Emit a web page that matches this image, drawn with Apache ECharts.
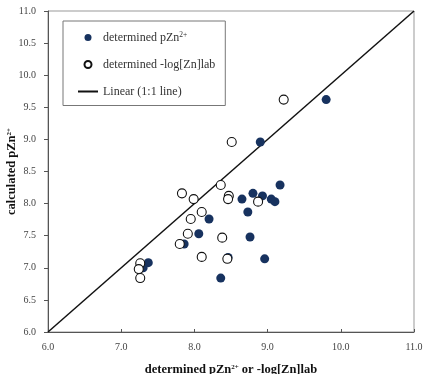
<!DOCTYPE html>
<html><head><meta charset="utf-8">
<script src="https://cdn.jsdelivr.net/npm/echarts@6/dist/echarts.min.js"></script>
<style>html,body{margin:0;padding:0;background:#fff}#c{width:425px;height:374px}</style>
</head><body><div id="c"></div>
<script>
// determined pZn2+ (filled) : [x, y]
const filledX = [9.80, 8.90, 9.17, 8.80, 8.93, 8.65, 9.05, 9.10, 8.73, 8.76, 8.96, 8.36, 8.46, 8.20, 8.06, 7.86, 7.37, 7.30];
const filledY = [9.62, 8.96, 8.29, 8.16, 8.12, 8.07, 8.07, 8.03, 7.87, 7.48, 7.14, 6.84, 7.16, 7.76, 7.53, 7.37, 7.08, 7.00];
// determined -log[Zn]lab (open)
const openX = [9.22, 8.51, 7.83, 7.99, 8.36, 8.47, 8.46, 8.10, 7.95, 7.91, 8.38, 7.80, 8.10, 8.45, 7.26, 7.24, 7.26, 8.87];
const openY = [9.62, 8.96, 8.16, 8.07, 8.29, 8.12, 8.07, 7.87, 7.76, 7.53, 7.47, 7.37, 7.17, 7.14, 7.07, 6.98, 6.84, 8.03];
// 1:1 line
const lineX = [6, 11];
const lineY = [6, 11];

const serif = '"Liberation Serif", "Times New Roman", serif';
const zip = (a, b) => a.map((v, i) => [v, b[i]]);
const sup = { fontFamily: serif, fontSize: 7, verticalAlign: 'bottom', padding: [0, 0, 5, 0] };

const chart = echarts.init(document.getElementById('c'));
chart.setOption({
  animation: false,
  grid: { left: 48, right: 11, top: 11, bottom: 42, show: true, borderColor: '#999', borderWidth: 1, containLabel: false, outerBoundsMode: 'none' },
  xAxis: {
    type: 'value', min: 6, max: 11, interval: 1,
    axisLine: { show: true, lineStyle: { color: '#555' } },
    axisTick: { show: true, inside: true, length: 3, lineStyle: { color: '#555' } },
    splitLine: { show: false },
    axisLabel: { formatter: v => v.toFixed(1), fontFamily: serif, fontSize: 10, color: '#444', margin: 10 },
    name: '{b|determined pZn}{s|2+}{b| or -log[Zn]lab}', nameLocation: 'middle', nameGap: 31, nameMoveOverlap: false,
    nameTextStyle: { rich: { b: { fontFamily: serif, fontSize: 12.5, fontWeight: 'bold', color: '#111' }, s: Object.assign({}, sup, { fontWeight: 'bold', color: '#111' }) } }
  },
  yAxis: {
    type: 'value', min: 6, max: 11, interval: 0.5,
    axisLine: { show: true, lineStyle: { color: '#555' } },
    axisTick: { show: true, length: 4, lineStyle: { color: '#555' } },
    splitLine: { show: false },
    axisLabel: { formatter: v => v.toFixed(1), fontFamily: serif, fontSize: 10, color: '#444', margin: 12 },
    name: '{b|calculated pZn}{s|2+}', nameLocation: 'middle', nameGap: 30, nameMoveOverlap: false,
    nameTextStyle: { rich: { b: { fontFamily: serif, fontSize: 12.5, fontWeight: 'bold', color: '#111' }, s: Object.assign({}, sup, { fontWeight: 'bold', color: '#111' }) } }
  },
  legend: {
    orient: 'vertical', left: 63, top: 21,
    padding: [10, 10, 8, 14], itemGap: 15, itemWidth: 20, itemHeight: 7,
    borderColor: '#777', borderWidth: 1, backgroundColor: '#fff',
    textStyle: { fontFamily: serif, fontSize: 12, color: '#333', rich: { t: { fontFamily: serif, fontSize: 12, color: '#333' }, s: { fontFamily: serif, fontSize: 7.5, color: '#333', verticalAlign: 'bottom', padding: [0, 0, 5, 0] } } },
    formatter: n => n === 'determined pZn2+' ? '{t|determined pZn}{s|2+}' : n,
    data: [
      { name: 'determined pZn2+', icon: 'circle' },
      { name: 'determined -log[Zn]lab', icon: 'circle' },
      { name: 'Linear (1:1 line)' }
    ]
  },
  series: [
    { name: 'Linear (1:1 line)', type: 'line', data: zip(lineX, lineY), symbol: 'none', itemStyle: { color: '#111', opacity: 0 }, lineStyle: { color: '#111', width: 1.5 }, z: 1 },
    { name: 'determined pZn2+', type: 'scatter', data: zip(filledX, filledY), symbolSize: 9, itemStyle: { color: '#17325f', opacity: 1 }, z: 2 },
    { name: 'determined -log[Zn]lab', type: 'scatter', data: zip(openX, openY), symbolSize: 9, itemStyle: { color: '#fff', borderColor: '#111', borderWidth: 1.1, opacity: 1 }, z: 3 }
  ]
});
</script></body></html>
